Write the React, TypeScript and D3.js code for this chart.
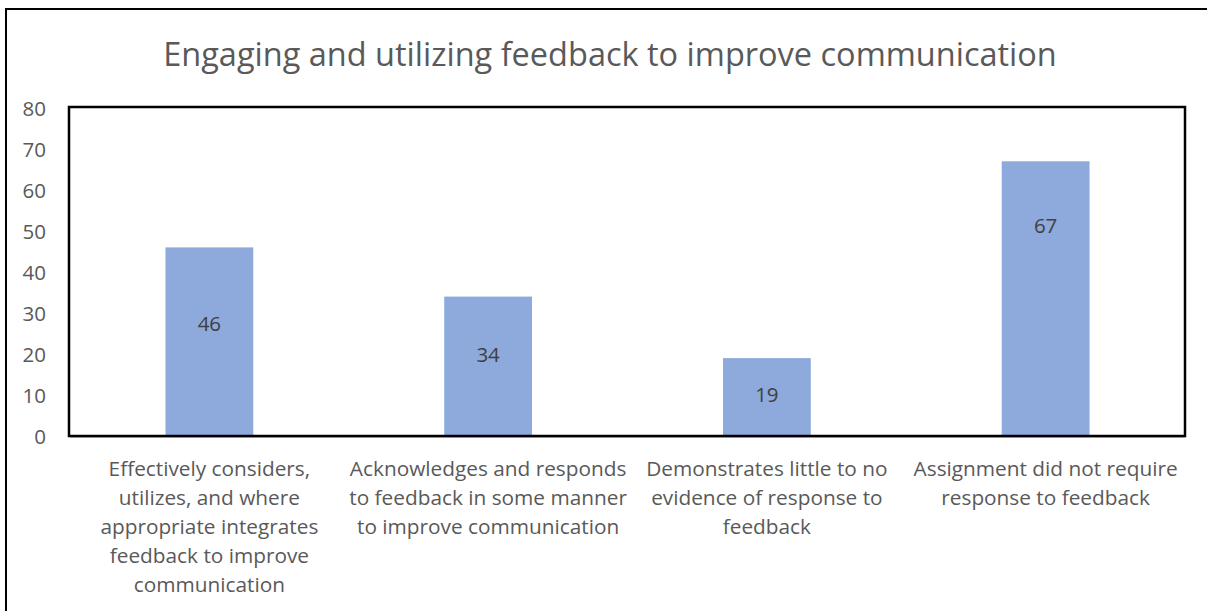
import React from "react";
import * as d3 from "d3";

const categories: string[][] = [
  ["Effectively considers,", "utilizes, and where", "appropriate integrates", "feedback to improve", "communication"],
  ["Acknowledges and responds", "to feedback in some manner", "to improve communication"],
  ["Demonstrates little to no", "evidence of response to", "feedback"],
  ["Assignment did not require", "response to feedback"],
];
const values = [46, 34, 19, 67];
const labelPos = [27.6, 20, 10.2, 51.5];
const yTicks = [0, 10, 20, 30, 40, 50, 60, 70, 80];
const title = "Engaging and utilizing feedback to improve communication";

export default function App() {
  const W = 1207, H = 611;
  const left = 70, right = 1185, top = 108, bottom = 436;
  const x = d3.scaleBand<number>().domain(d3.range(values.length)).range([left, right]).paddingInner(0.685).paddingOuter(0.3425);
  const y = d3.scaleLinear().domain([0, 80]).range([bottom, top]);
  const font = "'Open Sans', sans-serif";
  const grey = "#595959";
  return (
    <svg width={W} height={H} style={{ position: "absolute", left: 0, top: 0, background: "#fff" }} fontFamily={font}>
      <rect x={6} y={9} width={W + 10} height={H + 10} fill="#fff" stroke="#000" strokeWidth={2} />
      <text x={610} y={53} textAnchor="middle" dominantBaseline="central" fontSize={32.5} fill={grey}>{title}</text>
      {yTicks.map((t) => (
        <text key={t} x={46} y={y(t)} textAnchor="end" dominantBaseline="central" fontSize={20.5} fill={grey}>{t}</text>
      ))}
      {values.map((v, i) => (
        <g key={i}>
          <rect x={x(i)} y={y(v)} width={x.bandwidth()} height={y(0) - y(v)} fill="#8EA9DB" />
          <text x={(x(i) as number) + x.bandwidth() / 2} y={y(labelPos[i])} textAnchor="middle" dominantBaseline="central" fontSize={20.5} fill="#404040">{v}</text>
        </g>
      ))}
      <line x1={left} x2={right} y1={bottom + 1} y2={bottom + 1} stroke="#bfbfbf" strokeWidth={2} />
      <rect x={left - 1} y={top - 1} width={right - left + 1} height={bottom - top + 1} fill="none" stroke="#000" strokeWidth={2.5} />
      {categories.map((lines, i) => {
        const cx = left + (right - left) / values.length * (i + 0.5);
        return (
          <text key={i} textAnchor="middle" fontSize={20.8} fill={grey}>
            {lines.map((l, j) => (
              <tspan key={j} x={cx} y={468 + j * 29} dominantBaseline="central">{l}</tspan>
            ))}
          </text>
        );
      })}
    </svg>
  );
}
